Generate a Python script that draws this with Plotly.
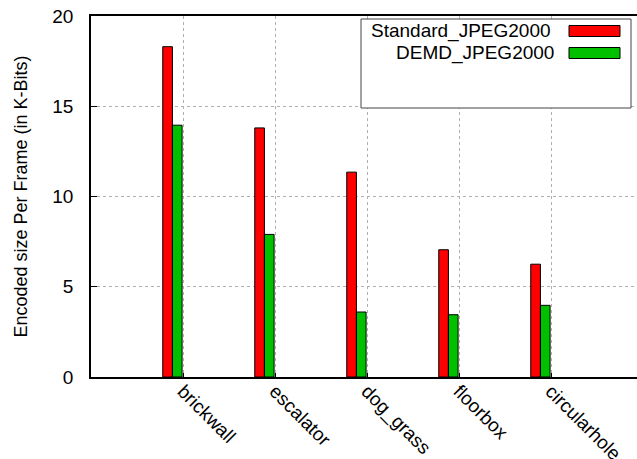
import plotly.graph_objects as go

categories = ["brickwall", "escalator", "dog_grass", "floorbox", "circularhole"]
standard_jpeg2000 = [18.3, 13.8, 11.35, 7.05, 6.25]
demd_jpeg2000 = [13.95, 7.9, 3.6, 3.45, 3.97]
series_names = ["Standard_JPEG2000", "DEMD_JPEG2000"]
series_colors = ["#ff0000", "#00c000"]

W, H = 637, 459
L, R, T, B = 91, 0, 16, 82
pw, ph = W - L - R, H - T - B

def px(x):
    return (x - L) / pw

def py(y):
    return (H - B - y) / ph

xpos = list(range(len(categories)))
font = "Liberation Sans, Arial, sans-serif"

fig = go.Figure()
for name, vals, col, off in zip(series_names, [standard_jpeg2000, demd_jpeg2000], series_colors, [-0.22, -0.115]):
    fig.add_trace(go.Bar(
        x=xpos, y=vals, name=name, width=0.105, offset=off,
        marker=dict(color=col, line=dict(color="black", width=1)),
        showlegend=False,
    ))

# custom gnuplot-style legend
shapes = [dict(type="rect", xref="paper", yref="paper",
               x0=px(361), x1=px(631), y0=py(108), y1=py(19),
               line=dict(color="#444", width=1), fillcolor="white", layer="above")]
annotations = []
for i, (name, col) in enumerate(zip(series_names, series_colors)):
    yc = 31 + i * 22
    shapes.append(dict(type="rect", xref="paper", yref="paper",
                       x0=px(569), x1=px(620), y0=py(yc + 5.5), y1=py(yc - 5.5),
                       line=dict(color="black", width=1), fillcolor=col, layer="above"))
    annotations.append(dict(xref="paper", yref="paper", x=px(553 + 3 * i), y=py(yc),
                            text=name, showarrow=False, xanchor="right", yanchor="middle",
                            font=dict(size=19, color="black", family=font)))

fig.update_layout(
    width=W, height=H,
    margin=dict(l=L, r=R, t=T, b=B, pad=0, autoexpand=False),
    plot_bgcolor="white", paper_bgcolor="white",
    font=dict(family=font, color="black"),
    shapes=shapes, annotations=annotations,
    showlegend=False,
    xaxis=dict(
        range=[-1, (W - 183) / 92.0], tickvals=xpos, ticktext=categories,
        tickangle=45, tickfont=dict(size=19), automargin=False,
        ticklabelstandoff=-6,
        showline=True, linecolor="black", linewidth=1.5, mirror=True,
        ticks="inside", ticklen=4, tickcolor="black",
        showgrid=True, gridcolor="#b0b0b0", griddash="dot", gridwidth=1,
        zeroline=False,
    ),
    yaxis=dict(
        range=[0, 20], tickvals=[0, 5, 10, 15, 20], tickfont=dict(size=19),
        automargin=False,
        title=dict(text="Encoded size Per Frame (in K-Bits)", font=dict(size=18), standoff=20),
        showline=True, linecolor="black", linewidth=1.5, mirror=False,
        ticks="inside", ticklen=6, tickcolor="black", ticklabelstandoff=12,
        showgrid=True, gridcolor="#b0b0b0", griddash="dot", gridwidth=1,
        zeroline=False,
    ),
)

fig.write_html("out.html", config={"displayModeBar": False},
               post_script="document.body.style.margin='0';document.body.style.overflow='hidden';")
